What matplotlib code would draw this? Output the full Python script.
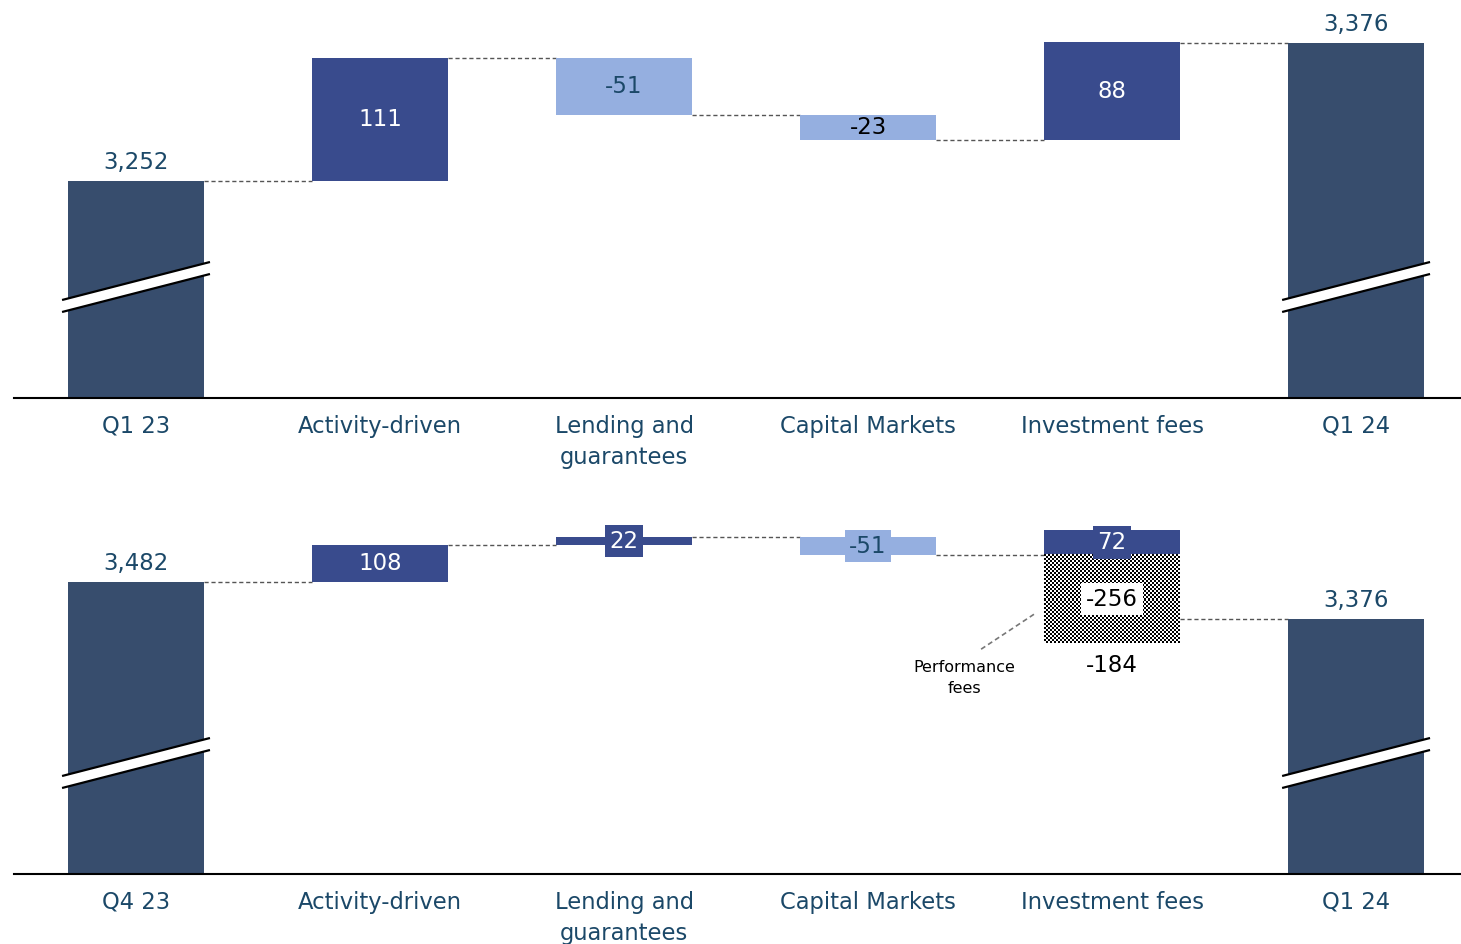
import numpy as np
import matplotlib
matplotlib.use('Agg')
import matplotlib.pyplot as plt
from matplotlib.patches import Polygon

# ---------------- data ----------------
categories_top = ['Q1 23', 'Activity-driven', 'Lending and\nguarantees',
                  'Capital Markets', 'Investment fees', 'Q1 24']
categories_bottom = ['Q4 23', 'Activity-driven', 'Lending and\nguarantees',
                     'Capital Markets', 'Investment fees', 'Q1 24']
top_start, top_end = 3252, 3376
top_deltas = [111, -51, -23, 88]
bot_start, bot_end = 3482, 3376
bot_deltas = [108, 22, -51, 72]
perf_fees = -256
inv_fees_net = -184

# ---------------- style ----------------
DARK = '#374D6D'
POS = '#394B8D'
NEG = '#95AFE0'
TXT = '#1B4868'
CONN = '#555555'
plt.rcParams['font.family'] = ['DejaVu Sans']
NUM_FS = 16.5
CAT_FS = 16.3

W, H = 1461, 944
fig = plt.figure(figsize=(W / 100, H / 100), dpi=100)
BW = 0.557
XL = (-0.5, 5.43)
PX_X = 244.0  # pixels per category


def add_ax(top_px, bottom_px):
    ax = fig.add_axes([14 / W, 1 - bottom_px / H, 1447 / W, (bottom_px - top_px) / H])
    ax._hpx = bottom_px - top_px
    return ax


def upp(ax):
    y0, y1 = ax.get_ylim()
    return (y1 - y0) / ax._hpx


def setup(ax, cats, ylim):
    ax.set_xlim(XL)
    ax.set_ylim(ylim)
    for s in ['top', 'left', 'right']:
        ax.spines[s].set_visible(False)
    ax.spines['bottom'].set_color('black')
    ax.spines['bottom'].set_linewidth(1.5)
    ax.set_yticks([])
    ax.set_xticks(range(len(cats)))
    ax.set_xticklabels(cats, fontsize=CAT_FS, color=TXT, linespacing=1.45)
    ax.tick_params(axis='x', length=0, pad=12)
    ax.patch.set_alpha(0)


def draw_break(ax, x):
    y0, _ = ax.get_ylim()
    u = upp(ax)
    x0 = x - (BW / 2 + 6 / PX_X)
    x1 = x + (BW / 2 + 6 / PX_X)
    yl = y0 + 92 * u
    yr = y0 + 130 * u
    t = 6 * u
    ax.add_patch(Polygon([[x0, yl - t], [x1, yr - t], [x1, yr + t], [x0, yl + t]],
                         closed=True, fc='white', ec='none', zorder=3, clip_on=False))
    ax.plot([x0, x1], [yl + t, yr + t], color='black', lw=1.6, zorder=4, clip_on=False,
            solid_capstyle='butt')
    ax.plot([x0, x1], [yl - t, yr - t], color='black', lw=1.6, zorder=4, clip_on=False,
            solid_capstyle='butt')


def total_bar(ax, x, val, label):
    y0, _ = ax.get_ylim()
    ax.bar(x, val - y0, bottom=y0, width=BW, color=DARK, zorder=2)
    ax.annotate(label, (x, val), xytext=(0, 5), textcoords='offset points',
                ha='center', va='bottom', fontsize=NUM_FS, color=TXT)
    draw_break(ax, x)


def connector(ax, xa, xb, level):
    ax.plot([xa + BW / 2, xb - BW / 2], [level, level], color=CONN, lw=1,
            dashes=(3, 2), zorder=1)


def vlabel(ax, x, y, s, color, box=None):
    kw = dict(ha='center', va='center', fontsize=NUM_FS, color=color, zorder=6)
    if box is not None:
        kw['bbox'] = dict(boxstyle='square,pad=0.2', fc=box, ec='none')
    ax.text(x, y, s, **kw)


# ---------------- top panel ----------------
ax1 = add_ax(0, 398)
setup(ax1, categories_top, (3057, 3415))
cum = [top_start]
for d in top_deltas:
    cum.append(cum[-1] + d)
total_bar(ax1, 0, top_start, f'{top_start:,}')
total_bar(ax1, 5, top_end, f'{top_end:,}')
top_label_colors = ['white', TXT, 'black', 'white']
for i, d in enumerate(top_deltas, start=1):
    lo = min(cum[i - 1], cum[i])
    ax1.bar(i, abs(d), bottom=lo, width=BW, color=POS if d > 0 else NEG, zorder=2)
    vlabel(ax1, i, lo + abs(d) / 2, f'{d}', top_label_colors[i - 1])
for i in range(4):
    connector(ax1, i, i + 1, cum[i])
connector(ax1, 4, 5, top_end)

# ---------------- bottom panel ----------------
ax2 = add_ax(480, 874)
setup(ax2, categories_bottom, (2636, 3778))
cumb = [bot_start]
for d in bot_deltas[:3]:
    cumb.append(cumb[-1] + d)
total_bar(ax2, 0, bot_start, f'{bot_start:,}')
total_bar(ax2, 5, bot_end, f'{bot_end:,}')
bot_label_styles = [('white', None), ('white', POS), (TXT, NEG)]
for i, d in enumerate(bot_deltas[:3], start=1):
    lo = min(cumb[i - 1], cumb[i])
    ax2.bar(i, abs(d), bottom=lo, width=BW, color=POS if d > 0 else NEG, zorder=2)
    c, b = bot_label_styles[i - 1]
    vlabel(ax2, i, lo + abs(d) / 2, f'{d}', c, b)

# investment fees: +72 up, performance fees -256 down (checkered)
base = cumb[3]
pos_inv = bot_deltas[3]
ax2.bar(4, pos_inv, bottom=base, width=BW, color=POS, zorder=2)
vlabel(ax2, 4, base + pos_inv / 2, f'{pos_inv}', 'white', POS)
hx0, hx1 = 4 - BW / 2, 4 + BW / 2
hy0, hy1 = base + perf_fees, base
u2 = upp(ax2)
ncols = int(round((hx1 - hx0) * PX_X / 2))
nrows = int(round((hy1 - hy0) / u2 / 2))
checker = (np.add.outer(np.arange(nrows), np.arange(ncols)) % 2).astype(float)
ax2.imshow(checker, extent=[hx0, hx1, hy0, hy1], aspect='auto', cmap='gray',
           interpolation='nearest', vmin=0, vmax=1, zorder=2)
vlabel(ax2, 4, base + perf_fees / 2, f'{perf_fees}', 'black', 'white')
ax2.text(4, hy0 - 22 * u2, f'{inv_fees_net}', ha='center', va='center',
         fontsize=NUM_FS, color='black')

# performance fees annotation
ax2.plot([hx0 - 63 / PX_X, hx0 - 10 / PX_X], [hy0 - 6 * u2, hy0 + 29 * u2],
         color='#777777', lw=1.2, dashes=(3, 2), zorder=3)
ax2.text(hx0 - 80 / PX_X, hy0 - 35 * u2, 'Performance\nfees', ha='center',
         va='center', fontsize=11.5, color='black', linespacing=1.45)

for i in range(3):
    connector(ax2, i, i + 1, cumb[i])
connector(ax2, 3, 4, cumb[3])
connector(ax2, 4, 5, bot_end)

ax2.set_xlim(XL)
ax2.set_ylim(2636, 3778)

fig.savefig('out.png', dpi=100)
